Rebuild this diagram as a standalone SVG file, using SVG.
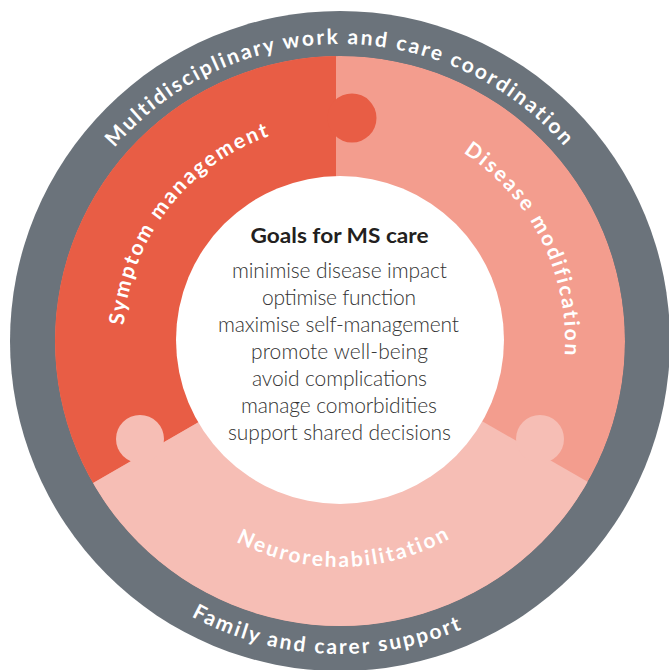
<svg xmlns="http://www.w3.org/2000/svg" width="669" height="670" viewBox="0 0 669 670">
  <style>
    .ring-label { font-family: "Lato", "Open Sans", "Liberation Sans", sans-serif; font-weight: 700; font-size: 21px; fill: #ffffff; letter-spacing: 2.2px; }
    .title { font-family: "Lato", "Open Sans", "Liberation Sans", sans-serif; font-weight: 700; font-size: 20px; fill: #231f20; text-anchor: middle; }
    .goal { font-family: "Lato", "Open Sans", "Liberation Sans", sans-serif; font-weight: 300; font-size: 21px; fill: #333333; text-anchor: middle; }
  </style>
  <defs>
    <clipPath id="ring-clip">
      <circle cx="340" cy="341" r="285"/>
    </clipPath>
    <!-- text baselines, all centred on (340,341) -->
    <path id="arc-top" d="M 43,341 A 297 297 0 0 1 637,341"/>
    <path id="arc-bottom" d="M 27,341 A 313 313 0 0 0 653,341"/>
    <path id="arc-neuro" d="M 114,341 A 226 226 0 0 0 566,341"/>
    <path id="arc-symptom" d="M 186.6,494.4 A 217 217 0 0 1 448.5,153.1"/>
    <path id="arc-disease" d="M 263.05,129.6 A 225 225 0 0 1 452.5,535.9"/>
  </defs>

  <!-- outer support ring -->
  <g id="support-ring">
    <circle cx="340" cy="341" r="330" fill="#6b737b"/>
    <text class="ring-label"><textPath href="#arc-top" startOffset="50%" text-anchor="middle">Multidisciplinary work and care coordination</textPath></text>
    <text class="ring-label"><textPath href="#arc-bottom" startOffset="48.6%" text-anchor="middle">Family and carer support</textPath></text>
  </g>

  <!-- three interlocking puzzle sectors -->
  <g clip-path="url(#ring-clip)">
    <g id="disease-modification">
      <circle cx="340" cy="341" r="285" fill="#f39d8e"/>
    </g>
    <g id="symptom-management">
      <polygon points="336,0 336,340 341,340 -100,594.5 -100,0" fill="#e85d45"/>
      <circle cx="352" cy="118" r="24.5" fill="#e85d45"/>
    </g>
    <g id="neurorehabilitation">
      <polygon points="-100,594.5 341,340 800,603.8 800,800 -100,800" fill="#f6beb5"/>
      <circle cx="140" cy="439" r="24" fill="#f6beb5"/>
      <circle cx="540" cy="439" r="24" fill="#f6beb5"/>
    </g>
  </g>

  <g id="sector-labels">
    <text class="ring-label"><textPath href="#arc-symptom" startOffset="50.2%" text-anchor="middle">Symptom management</textPath></text>
    <text class="ring-label"><textPath href="#arc-disease" startOffset="49.2%" text-anchor="middle">Disease modification</textPath></text>
    <text class="ring-label"><textPath href="#arc-neuro" startOffset="50.6%" text-anchor="middle">Neurorehabilitation</textPath></text>
  </g>

  <!-- centre: goals -->
  <g id="goals">
    <circle cx="340" cy="340" r="164" fill="#ffffff"/>
    <text class="title" x="339.5" y="243" textLength="178" lengthAdjust="spacingAndGlyphs">Goals for MS care</text>
    <text class="goal" x="339.5" y="278" textLength="215">minimise disease impact</text>
    <text class="goal" x="339" y="305" textLength="154">optimise function</text>
    <text class="goal" x="338.5" y="332" textLength="241">maximise self-management</text>
    <text class="goal" x="339.5" y="359" textLength="177">promote well-being</text>
    <text class="goal" x="339.5" y="386" textLength="175">avoid complications</text>
    <text class="goal" x="339" y="413" textLength="196">manage comorbidities</text>
    <text class="goal" x="339.5" y="440" textLength="223">support shared decisions</text>
  </g>
</svg>
